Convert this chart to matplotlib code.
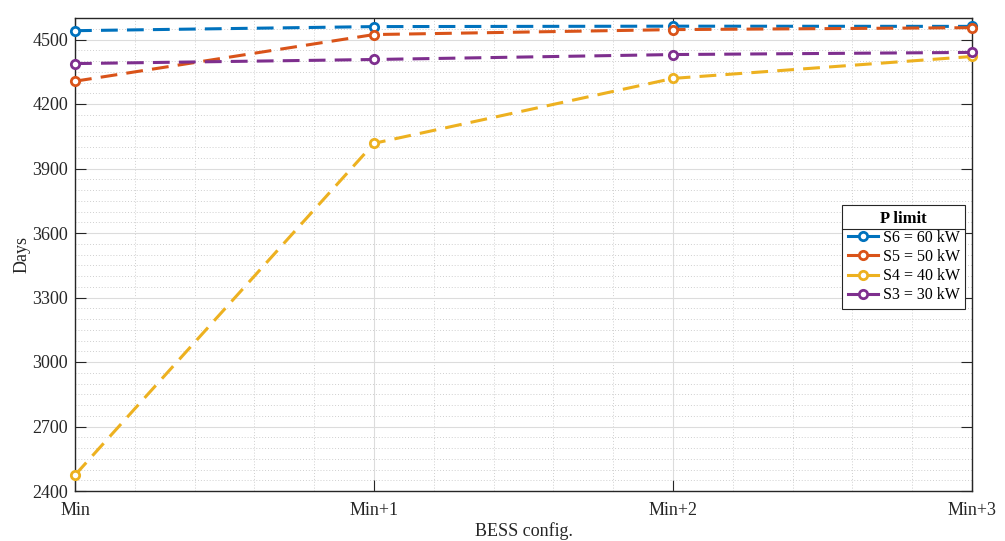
import numpy as np
import matplotlib.pyplot as plt
from matplotlib.ticker import MultipleLocator, AutoMinorLocator
from matplotlib.lines import Line2D

plt.rcParams['font.family'] = ['Liberation Serif', 'DejaVu Serif']

# Data
configs = ["Min", "Min+1", "Min+2", "Min+3"]
s6 = [4541, 4560, 4562, 4561]
s5 = [4306, 4523, 4546, 4555]
s4 = [2474, 4017, 4319, 4421]
s3 = [4388, 4407, 4430, 4440]
labels = ["S6 = 60 kW", "S5 = 50 kW", "S4 = 40 kW", "S3 = 30 kW"]
colors = ["#0072BD", "#D95319", "#EDB120", "#7E2F8E"]

fig = plt.figure(figsize=(10.05, 5.41), dpi=100)
ax = fig.add_axes([75/1005, 50/541, 897/1005, 473/541])

x = np.arange(len(configs))
for vals, lab, c in zip([s6, s5, s4, s3], labels, colors):
    ax.plot(x, vals, ls=(0, (5.5, 3)), lw=2.2, color=c, marker='o', ms=6,
            mfc='white', mew=2, label=lab, clip_on=False, zorder=3)

ax.set_xlim(0, 3)
ax.set_ylim(2400, 4600)
ax.set_xticks(x)
ax.set_xticklabels(configs)
ax.yaxis.set_major_locator(MultipleLocator(300))
ax.yaxis.set_minor_locator(MultipleLocator(50))
ax.xaxis.set_minor_locator(AutoMinorLocator(5))

ax.grid(which='major', color='#dcdcdc', lw=0.8, ls='-')
ax.grid(which='minor', color='#cfcfcf', lw=0.7, ls=(0, (1, 2)))
ax.set_axisbelow(True)

for sp in ax.spines.values():
    sp.set_color('#262626')
    sp.set_linewidth(1.0)
ax.tick_params(which='major', direction='in', length=8, width=0.8, colors='#262626',
               top=True, right=True, labelsize=13)
ax.tick_params(axis='x', which='major', pad=8)
ax.tick_params(axis='y', which='major', pad=5)
ax.tick_params(which='minor', length=0, top=True, right=True)

ax.set_xlabel("BESS config.", fontsize=13, color='#262626', labelpad=2)
ax.set_ylabel("Days", fontsize=13, color='#262626', labelpad=1)

leg = ax.legend(title="P limit", loc='upper left', bbox_to_anchor=(842/1005, (541-205)/541),
                bbox_transform=fig.transFigure, fontsize=11.5, frameon=True, fancybox=False,
                framealpha=1, edgecolor='#262626', handlelength=1.9, handletextpad=0.3,
                borderpad=0.35, labelspacing=0.2, borderaxespad=0)
leg.get_title().set_fontweight('bold')
leg.get_title().set_fontsize(12)
leg.get_frame().set_linewidth(0.8)
for h in leg.get_lines():
    h.set_linestyle('-')

fig.canvas.draw()
fb = leg.get_frame().get_window_extent()
tb = leg.get_title().get_window_extent()
ysep = tb.y0 - 2
inv = fig.transFigure.inverted()
x0, y0 = inv.transform((fb.x0, ysep))
x1, _ = inv.transform((fb.x1, ysep))
fig.add_artist(Line2D([x0, x1], [y0, y0], color='#262626', lw=0.8, transform=fig.transFigure))

fig.savefig("out.png", dpi=100)
